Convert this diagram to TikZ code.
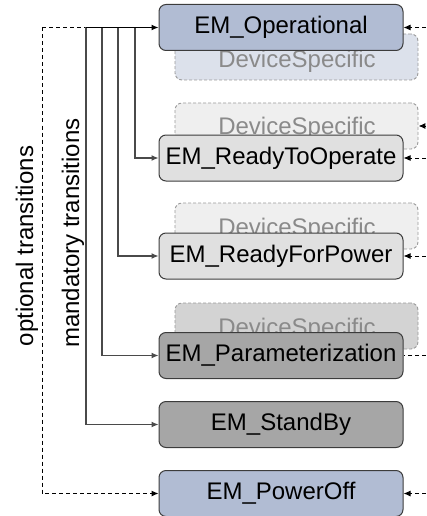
\documentclass[tikz,border=0pt]{standalone}
\usepackage{fontspec}
\setmainfont{Liberation Sans}
\usetikzlibrary{arrows.meta}
\definecolor{opfill}{HTML}{B1BCD3}
\definecolor{ltfill}{HTML}{E0E0E0}
\definecolor{dkfill}{HTML}{A6A6A6}
\definecolor{dsopfill}{HTML}{DCE1EB}
\definecolor{dsltfill}{HTML}{EFEFEF}
\definecolor{dsdkfill}{HTML}{D3D3D3}
\definecolor{boxline}{HTML}{3C3C3C}
\definecolor{dsline}{HTML}{9A9A9A}
\definecolor{dstext}{HTML}{8A8A8A}
\definecolor{lineg}{HTML}{4A4A4A}
\begin{document}
\begin{tikzpicture}[x=1pt,y=-1pt,
  mainbox/.style={draw=boxline, line width=1pt, rounded corners=7pt, minimum width=244pt, minimum height=46pt, inner sep=0pt, font=\fontsize{24}{27}\selectfont, text=black},
  dsbox/.style={draw=dsline, line width=0.9pt, dash pattern=on 3pt off 2pt, rounded corners=7pt, minimum width=243pt, minimum height=46pt, inner sep=0pt},
  dslabel/.style={anchor=base, inner sep=0pt, font=\fontsize{24}{27}\selectfont, text=dstext},
  tip/.style={-{Latex[length=7pt,width=6pt]}},
  conn/.style={draw=lineg, line width=1.1pt, tip},
  optconn/.style={draw=black, line width=1pt, dash pattern=on 4pt off 3pt, tip},
  optline/.style={draw=black, line width=1pt, dash pattern=on 4pt off 3pt},
  vlabel/.style={rotate=90, font=\fontsize{24}{27}\selectfont, inner sep=0pt}]
\useasboundingbox (0,0) rectangle (426,516);
% device specific boxes (behind)
\node[dsbox, fill=dsopfill] (ds1) at (296.5,57) {};
\node[dsbox, fill=dsltfill] (ds2) at (296.5,126) {};
\node[dsbox, fill=dsltfill] (ds3) at (296.5,226) {};
\node[dsbox, fill=dsdkfill] (ds4) at (296.5,326) {};
\node[dslabel] (ds1t) at (297,68) {DeviceSpecific};
\node[dslabel] (ds2t) at (297,135) {DeviceSpecific};
\node[dslabel] (ds3t) at (297,235) {DeviceSpecific};
\node[dslabel] (ds4t) at (297,335) {DeviceSpecific};
% main boxes
\node[mainbox, fill=opfill] (op) at (281,27.5) {EM\_Operational};
\node[mainbox, fill=ltfill] (rto) at (281,158) {EM\_ReadyToOperate};
\node[mainbox, fill=ltfill] (rfp) at (281,256) {EM\_ReadyForPower};
\node[mainbox, fill=dkfill] (par) at (281,355.5) {EM\_Parameterization};
\node[mainbox, fill=dkfill] (sb) at (281,424.5) {EM\_StandBy};
\node[mainbox, fill=opfill] (po) at (281,493.5) {EM\_PowerOff};
% labels
\node[vlabel] (optl) at (27,246) {optional transitions};
\node[vlabel] (manl) at (73,233) {mandatory transitions};
% left connectors
\coordinate (t0) at (42,27.5);
\coordinate (t1) at (86,27.5);
\coordinate (t2) at (102,27.5);
\coordinate (t3) at (118,27.5);
\coordinate (t4) at (135,27.5);
\draw[optconn] (t0) |- (po.west);
\draw[optline] (t0) -- (t1);
\draw[conn] (t1) |- (sb.west);
\draw[conn] (t2) |- (par.west);
\draw[conn] (t3) |- (rfp.west);
\draw[conn] (t4) |- (rto.west);
\draw[conn, draw=black] (t1) -- (op.west);
% right connectors
\coordinate (r1) at (426,27.5);
\coordinate (r2) at (426,126);
\coordinate (r3) at (426,158);
\coordinate (r4) at (426,256);
\coordinate (r5) at (426,355.5);
\coordinate (r6) at (426,493.5);
\draw[optconn] (r1) -- (op.east);
\draw[optconn] (r2) -- (ds2.east);
\draw[optconn] (r3) -- (rto.east);
\draw[optconn] (r4) -- (rfp.east);
\draw[optline] (r5) -- (par.east);
\draw[optconn] (r6) -- (po.east);
\end{tikzpicture}
\end{document}
